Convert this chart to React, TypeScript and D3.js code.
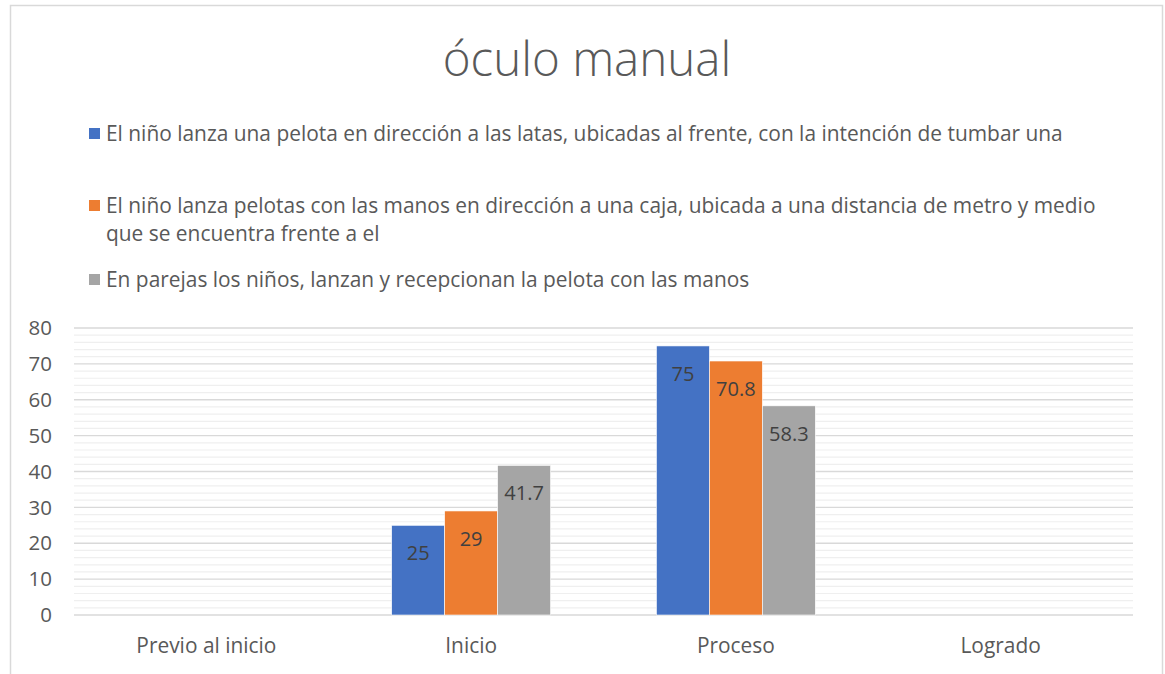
import React, { useRef, useEffect } from "react";
import * as d3 from "d3";

const categories = ["Previo al inicio", "Inicio", "Proceso", "Logrado"];
const seriesNames = [
  "El niño lanza una pelota en dirección a las latas, ubicadas al frente, con la intención de tumbar una",
  "El niño lanza pelotas con las manos en dirección a una caja, ubicada a una distancia de metro y medio|que se encuentra frente a el",
  "En parejas los niños, lanzan y recepcionan la pelota con las manos",
];
const latas = [null, 25, 75, null];
const caja = [null, 29, 70.8, null];
const parejas = [null, 41.7, 58.3, null];
const colors = ["#4472c4", "#ed7d31", "#a5a5a5"];
const yTicks = [0, 10, 20, 30, 40, 50, 60, 70, 80];

const App = () => {
  const svgRef = useRef(null);

  useEffect(() => {
    const svgWidth = 1165;
    const svgHeight = 674;
    const font = "'Open Sans', sans-serif";
    const margin = { top: 328, right: 32, bottom: 59, left: 74 };
    const width = svgWidth - margin.left - margin.right;
    const height = svgHeight - margin.top - margin.bottom;

    const svg = d3.select(svgRef.current).attr("width", svgWidth).attr("height", svgHeight);
    svg.selectAll("*").remove();

    svg.append("rect").attr("width", svgWidth).attr("height", svgHeight).attr("fill", "#fff");
    svg.append("rect")
      .attr("x", 10.5).attr("y", 5.5)
      .attr("width", 1152).attr("height", 700)
      .attr("fill", "none").attr("stroke", "#d9d9d9").attr("stroke-width", 1.5);

    svg.append("text")
      .attr("x", 587).attr("y", 76)
      .attr("text-anchor", "middle")
      .attr("font-family", font).attr("font-weight", 300)
      .attr("font-size", 47.5).attr("fill", "#595959")
      .text("óculo manual");

    // legend
    const legendY = [134, 206, 280];
    seriesNames.forEach((name, i) => {
      const lg = svg.append("g").attr("transform", `translate(89, ${legendY[i]})`);
      lg.append("rect").attr("x", 0).attr("y", -6).attr("width", 11).attr("height", 11).attr("fill", colors[i]);
      name.split("|").forEach((line, j) => {
        lg.append("text")
          .attr("x", 17).attr("y", j * 28)
          .attr("dy", "0.35em")
          .attr("font-family", font).attr("font-size", 20.9).attr("fill", "#595959")
          .text(line);
      });
    });

    const g = svg.append("g").attr("transform", `translate(${margin.left}, ${margin.top})`);

    const xScale = d3.scaleBand().domain(categories).range([0, width]);
    const yScale = d3.scaleLinear().domain([0, 80]).range([height, 0]);

    // minor gridlines every 2
    g.selectAll(".minor")
      .data(d3.range(0, 80, 2).filter((v) => v % 10 !== 0))
      .enter().append("line")
      .attr("x1", 0).attr("x2", width)
      .attr("y1", (d) => yScale(d)).attr("y2", (d) => yScale(d))
      .attr("stroke", "#efefef").attr("stroke-width", 1.2);

    g.selectAll(".major")
      .data(yTicks)
      .enter().append("line")
      .attr("x1", 0).attr("x2", width)
      .attr("y1", (d) => yScale(d)).attr("y2", (d) => yScale(d))
      .attr("stroke", "#d9d9d9").attr("stroke-width", 1.3);

    g.selectAll(".ylab")
      .data(yTicks)
      .enter().append("text")
      .attr("x", -22).attr("y", (d) => yScale(d))
      .attr("dy", "0.35em").attr("text-anchor", "end")
      .attr("font-family", font).attr("font-size", 20.5).attr("fill", "#595959")
      .text((d) => d);

    g.selectAll(".xlab")
      .data(categories)
      .enter().append("text")
      .attr("x", (d) => xScale(d) + xScale.bandwidth() / 2)
      .attr("y", height + 31)
      .attr("dy", "0.35em").attr("text-anchor", "middle")
      .attr("font-family", font).attr("font-size", 20.9).attr("fill", "#595959")
      .text((d) => d);

    const allSeries = [latas, caja, parejas];
    const barW = xScale.bandwidth() / 5;
    const xSub = d3.scaleBand().domain(["0", "1", "2"]).range([-1.5 * barW, 1.5 * barW]);

    allSeries.forEach((values, si) => {
      const pts = categories.map((c, i) => ({ cat: c, v: values[i] })).filter((d) => d.v != null);
      g.selectAll(`.bar${si}`)
        .data(pts)
        .enter().append("rect")
        .attr("x", (d) => xScale(d.cat) + xScale.bandwidth() / 2 + xSub(String(si)))
        .attr("y", (d) => yScale(d.v))
        .attr("width", xSub.bandwidth())
        .attr("height", (d) => height - yScale(d.v))
        .attr("fill", colors[si])
        .attr("stroke", "#ffffff").attr("stroke-width", 0.6);

      g.selectAll(`.lab${si}`)
        .data(pts)
        .enter().append("text")
        .attr("x", (d) => xScale(d.cat) + xScale.bandwidth() / 2 + xSub(String(si)) + xSub.bandwidth() / 2)
        .attr("y", (d) => yScale(d.v) + 28)
        .attr("dy", "0.35em").attr("text-anchor", "middle")
        .attr("font-family", font).attr("font-size", 20).attr("fill", "#404040")
        .text((d) => d.v);
    });
  }, []);

  return (
    <div>
      <svg ref={svgRef} style={{ position: "absolute", left: 0, top: 0 }} />
    </div>
  );
};

export default App;
